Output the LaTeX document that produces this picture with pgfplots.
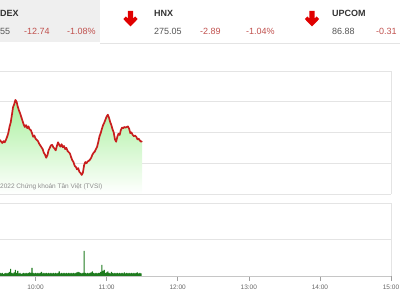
\documentclass[border=0pt]{standalone}
\usepackage{fontspec}
\setmainfont{Liberation Sans}
\usepackage{pgfplots}
\usepackage{pgfplotstable}
\pgfplotsset{compat=1.18}
\definecolor{gridc}{HTML}{E4E4E4}
\definecolor{hdrbg}{HTML}{EFEFEF}
\definecolor{redtxt}{HTML}{C0504D}
\definecolor{arrowred}{HTML}{E00000}
\definecolor{linered}{HTML}{C81E1E}
\definecolor{volgreen}{HTML}{1E7B1E}
\definecolor{fillgreen}{HTML}{A8F09C}
\definecolor{hdrtxt}{HTML}{333333}
\definecolor{valtxt}{HTML}{555555}
\definecolor{ticktxt}{HTML}{666666}

\pgfplotstableread{
t v
0 1168.8
1 1168.5
2 1168.3
3 1168.6
4 1168.4
5 1168.8
6 1169.3
7 1169.9
8 1170.9
9 1171.6
10 1172.8
11 1174.1
12 1174.6
13 1175.3
14 1175.0
15 1174.2
16 1173.6
17 1173.1
18 1172.5
19 1171.9
20 1171.3
21 1170.9
22 1171.2
23 1170.7
24 1171.0
25 1170.5
26 1170.4
27 1169.9
28 1169.3
29 1169.5
30 1169.0
31 1168.8
32 1168.6
33 1168.2
34 1167.9
35 1167.6
36 1167.3
37 1166.7
38 1166.4
39 1165.9
40 1166.3
41 1167.1
42 1167.5
43 1167.9
44 1168.0
45 1167.6
46 1167.4
47 1167.1
48 1167.8
49 1168.4
50 1168.0
51 1167.7
52 1168.1
53 1167.6
54 1167.8
55 1167.3
56 1167.5
57 1167.0
58 1166.8
59 1166.6
60 1166.0
61 1165.5
62 1165.2
63 1164.6
64 1164.4
65 1164.0
66 1164.2
67 1163.6
68 1163.4
69 1163.1
70 1163.5
71 1164.7
72 1165.2
73 1165.0
74 1165.3
75 1165.4
76 1165.6
77 1165.9
78 1166.4
79 1166.7
80 1166.9
81 1167.3
82 1167.7
83 1168.5
84 1169.4
85 1169.9
86 1170.6
87 1171.2
88 1171.6
89 1172.1
90 1172.6
91 1172.9
92 1172.4
93 1171.7
94 1171.2
95 1170.5
96 1170.0
97 1168.9
98 1168.5
99 1169.3
100 1169.8
101 1169.6
102 1170.4
103 1170.8
104 1170.7
105 1170.9
106 1170.8
107 1170.9
108 1171.0
109 1170.6
110 1169.9
111 1170.0
112 1169.6
113 1169.4
114 1169.5
115 1169.3
116 1168.9
117 1169.0
118 1168.7
119 1168.5
120 1168.6
}\price

\pgfplotstableread{
t v
0 3
1 2.5
2 3
3 2
4 2.5
5 3
6 2.5
7 3
8 4
9 7
10 3
11 2.5
12 3.5
13 6
14 3
15 5
16 2.5
17 3
18 2
19 2.5
20 3
21 2.5
22 3
23 2.5
24 3
25 3.5
26 3
27 8
28 3
29 2.5
30 3
31 2.5
32 3
33 2.5
34 3
35 4
36 2.5
37 3
38 2.5
39 3
40 2.5
41 3
42 2.5
43 3
44 2.5
45 3
46 2.5
47 3
48 2.5
49 3
50 4.5
51 2.5
52 3
53 2.5
54 3
55 2.5
56 3
57 2.5
58 3
59 2.5
60 3
61 2.5
62 3
63 2.5
64 3
65 3.5
66 4
67 3.5
68 3
69 2.5
70 3
71 25
72 3
73 2.5
74 3
75 2.5
76 3
77 3.5
78 4.5
79 3
80 2.5
81 3
82 2.5
83 3
84 3
85 4
86 11
87 5
88 6
89 3
90 3.5
91 4.5
92 3
93 2.5
94 4
95 3
96 2.5
97 3
98 2.5
99 3
100 2.5
101 3
102 2.5
103 3
104 2.5
105 3.5
106 2.5
107 3
108 2.5
109 3
110 2.5
111 3
112 2.5
113 3
114 2.5
115 3
116 3.5
117 2.5
118 3
119 2.5
}\volume

\begin{document}
\begin{tikzpicture}[x=1pt,y=1pt]
\path[use as bounding box] (0,0) rectangle (400,300);
% header
\fill[hdrbg] (0,258) rectangle (100,300);
\draw[gridc, line width=0.6pt] (100,257) -- (400,257);
\tikzset{hb/.style={anchor=base west, inner sep=0, font=\fontsize{9}{11}\selectfont\bfseries, text=hdrtxt},
         hv/.style={anchor=base west, inner sep=0, font=\fontsize{9}{11}\selectfont, text=valtxt},
         hr/.style={anchor=base west, inner sep=0, font=\fontsize{9}{11}\selectfont, text=redtxt}}
\node[hb] at (0,283) {DEX};
\node[hv] at (0,265) {55};
\node[hr] at (24,265) {-12.74};
\node[hr] at (67,265) {-1.08\%};
\node[hb] at (154,283) {HNX};
\node[hv] at (154,265) {275.05};
\node[hr] at (200,265) {-2.89};
\node[hr] at (246,265) {-1.04\%};
\node[hb] at (332,283) {UPCOM};
\node[hv] at (332,265) {86.88};
\node[hr] at (376,265) {-0.31};
% arrows
\foreach \cx in {130.5,312} {
  \fill[arrowred] (\cx-2.6,289) -- (\cx+2.6,289) -- (\cx+2.6,281.5) -- (\cx+4.6,283.5) -- (\cx+7.2,281) -- (\cx,273.5) -- (\cx-7.2,281) -- (\cx-4.6,283.5) -- (\cx-2.6,281.5) -- cycle;
}
% price chart
\begin{axis}[at={(0pt,106pt)}, anchor=south west, scale only axis,
  width=391pt, height=123pt, xmin=0, xmax=330, ymin=1160, ymax=1180,
  axis line style={draw=none}, xtick=\empty,
  ytick={1160,1165,1170,1175,1180}, yticklabels={},
  ymajorgrids, grid style={gridc, line width=0.8pt}, major tick length=0pt]
\addplot[top color=fillgreen, bottom color=white, draw=none, forget plot] table[x=t,y=v]{\price} -- (axis cs:120,1160) -- (axis cs:0,1160) -- cycle;
\addplot[linered, line width=1.7pt, line join=round] table[x=t,y=v]{\price};
\end{axis}
\draw[gridc, line width=0.8pt] (391,106) -- (391,229);
\node[anchor=base west, inner sep=0, font=\fontsize{6.5}{8}\selectfont, text=black!45] at (0,111) {2022 Chứng khoán Tân Việt (TVSI)};
% volume chart
\begin{axis}[at={(0pt,24pt)}, anchor=south west, scale only axis,
  width=391pt, height=73pt, xmin=0, xmax=330, ymin=0, ymax=73,
  axis line style={draw=none},
  ytick={36.5,73}, yticklabels={}, ymajorgrids, grid style={gridc, line width=0.8pt},
  xtick={30,90,150,210,270,330}, xticklabels={10:00,11:00,12:00,13:00,14:00,15:00},
  xtick pos=bottom, tick align=outside, major tick length=5pt,
  major tick style={gridc!70!black, line width=0.6pt},
  ytick style={draw=none},
  tick label style={font=\fontsize{6.5}{8}\selectfont, text=ticktxt},
  /pgf/number format/assume math mode=true]
\addplot[ybar, bar width=1.1pt, fill=volgreen, draw=none] table[x=t,y=v]{\volume};
\end{axis}
\draw[gray!45, line width=0.8pt] (0,24) -- (391,24);
\draw[gridc, line width=0.8pt] (391,24) -- (391,97);
\end{tikzpicture}
\end{document}
